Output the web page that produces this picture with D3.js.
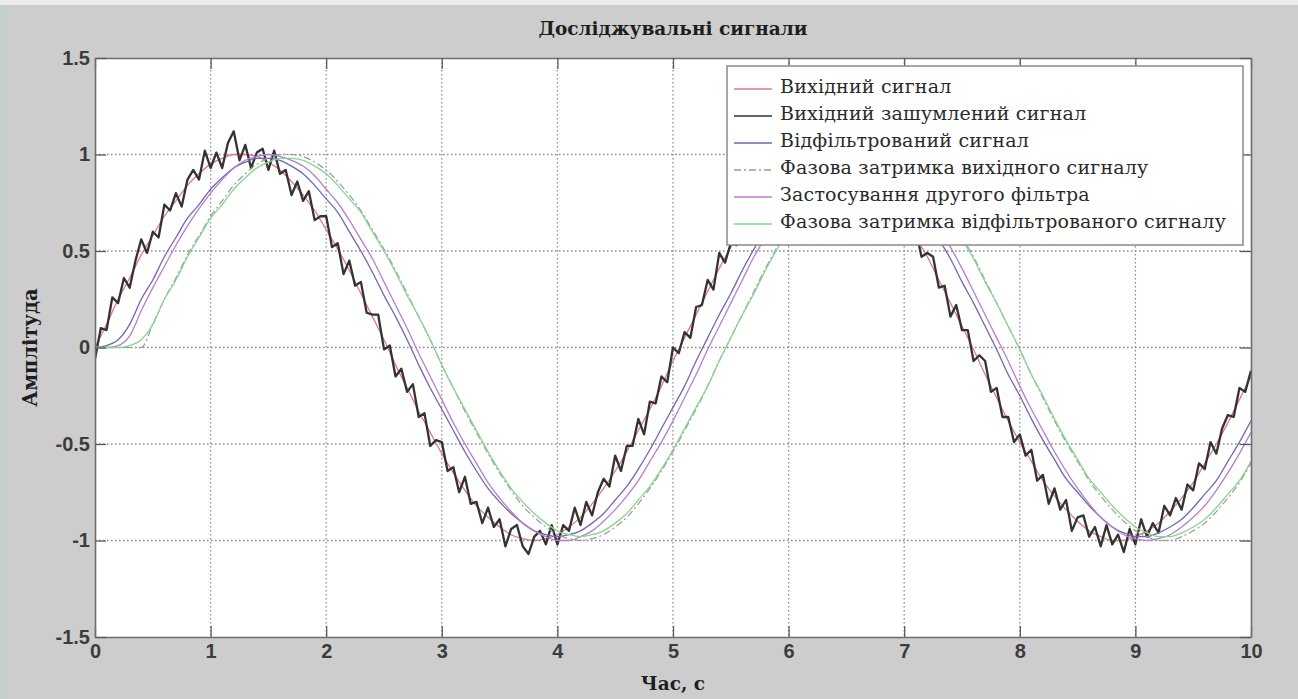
<!DOCTYPE html>
<html>
<head>
<meta charset="utf-8">
<script src="https://cdn.jsdelivr.net/npm/d3@7"></script>
<style>
  html, body { margin: 0; padding: 0; background: #cdcdcd; overflow: hidden; }
  svg { display: block; }
</style>
</head>
<body>
<svg id="chart" width="1298" height="699"></svg>
<script>
// ---- data -------------------------------------------------------------
const titleText = "Досліджувальні сигнали";
const xAxisTitle = "Час, с";
const yAxisTitle = "Амплітуда";

const legendLabels = [
  "Вихідний сигнал",
  "Вихідний зашумлений сигнал",
  "Відфільтрований сигнал",
  "Фазова затримка вихідного сигналу",
  "Застосування другого фільтра",
  "Фазова затримка відфільтрованого сигналу"
];

const xTickValues = [0, 1, 2, 3, 4, 5, 6, 7, 8, 9, 10];
const xTickLabels = ["0", "1", "2", "3", "4", "5", "6", "7", "8", "9", "10"];
const yTickValues = [-1.5, -1, -0.5, 0, 0.5, 1, 1.5];
const yTickLabels = ["-1.5", "-1", "-0.5", "0", "0.5", "1", "1.5"];

// smooth curves, sampled every 0.1 s from 0 to 10 s
const sourceSignal = [
  0, .12, .25, .36, .48, .58, .68, .76, .84, .90,
  .95, .98, 1.0, 1.0, .99, .96, .92, .86, .79, .71,
  .61, .51, .40, .28, .16, .04, -.09, -.21, -.33, -.44,
  -.55, -.65, -.74, -.82, -.88, -.93, -.97, -.99, -1.0, -.99,
  -.97, -.93, -.88, -.81, -.73, -.64, -.54, -.43, -.32, -.20,
  -.07, .05, .17, .29, .41, .52, .62, .71, .80, .86,
  .92, .96, .99, 1.0, 1.0, .98, .94, .90, .83, .76,
  .67, .57, .47, .35, .23, .11, -.01, -.14, -.26, -.38,
  -.49, -.59, -.69, -.77, -.84, -.90, -.95, -.98, -1.0, -1.0,
  -.98, -.95, -.91, -.85, -.78, -.70, -.60, -.50, -.39, -.27,
  -.15
];

const filteredSignal = [
  0, .01, .04, .12, .25, .35, .47, .57, .67, .74,
  .82, .88, .93, .96, .98, .98, .97, .94, .90, .84,
  .77, .70, .60, .50, .39, .27, .16, .04, -.09, -.21,
  -.32, -.43, -.54, -.64, -.73, -.80, -.86, -.91, -.95, -.97,
  -.98, -.97, -.95, -.91, -.86, -.79, -.72, -.63, -.53, -.42,
  -.31, -.20, -.07, .05, .17, .28, .40, .51, .61, .70,
  .78, .84, .90, .94, .97, .98, .98, .96, .92, .88,
  .81, .74, .66, .56, .46, .34, .23, .11, -.01, -.14,
  -.25, -.37, -.48, -.58, -.68, -.75, -.82, -.88, -.93, -.96,
  -.98, -.98, -.96, -.93, -.89, -.83, -.76, -.69, -.59, -.49,
  -.38
];

const sourceDelayed = [
  0, 0, 0, 0, 0, .12, .25, .36, .48, .58,
  .68, .76, .84, .90, .95, .98, 1.0, 1.0, .99, .96,
  .92, .86, .79, .71, .61, .51, .40, .28, .16, .04,
  -.09, -.21, -.33, -.44, -.55, -.65, -.74, -.82, -.88, -.93,
  -.97, -.99, -1.0, -.99, -.97, -.93, -.88, -.81, -.73, -.64,
  -.54, -.43, -.32, -.20, -.07, .05, .17, .29, .41, .52,
  .62, .71, .80, .86, .92, .96, .99, 1.0, 1.0, .98,
  .94, .90, .83, .76, .67, .57, .47, .35, .23, .11,
  -.01, -.14, -.26, -.38, -.49, -.59, -.69, -.77, -.84, -.90,
  -.95, -.98, -1.0, -1.0, -.98, -.95, -.91, -.85, -.78, -.70,
  -.60
];

const secondFilter = [
  0, 0, .01, .06, .19, .31, .42, .53, .63, .72,
  .80, .87, .93, .97, .99, 1.0, .99, .97, .94, .89,
  .82, .75, .66, .56, .46, .34, .22, .10, -.03, -.15,
  -.27, -.39, -.50, -.60, -.70, -.78, -.85, -.91, -.95, -.98,
  -1.0, -1.0, -.98, -.95, -.90, -.84, -.77, -.69, -.59, -.49,
  -.38, -.26, -.14, -.01, .11, .23, .35, .47, .57, .67,
  .76, .83, .89, .94, .98, 1.0, 1.0, .99, .96, .92,
  .87, .80, .71, .62, .52, .41, .29, .17, .05, -.07,
  -.20, -.32, -.43, -.54, -.64, -.73, -.81, -.88, -.93, -.97,
  -.99, -1.0, -.99, -.97, -.93, -.88, -.82, -.74, -.65, -.55,
  -.44
];

const filteredDelayed = [
  0, 0, 0, .01, .04, .12, .25, .35, .47, .57,
  .67, .74, .82, .88, .93, .96, .98, .98, .97, .94,
  .90, .84, .77, .70, .60, .50, .39, .27, .16, .04,
  -.09, -.21, -.32, -.43, -.54, -.64, -.73, -.80, -.86, -.91,
  -.95, -.97, -.98, -.97, -.95, -.91, -.86, -.79, -.72, -.63,
  -.53, -.42, -.31, -.20, -.07, .05, .17, .28, .40, .51,
  .61, .70, .78, .84, .90, .94, .97, .98, .98, .96,
  .92, .88, .81, .74, .66, .56, .46, .34, .23, .11,
  -.01, -.14, -.25, -.37, -.48, -.58, -.68, -.75, -.82, -.88,
  -.93, -.96, -.98, -.98, -.96, -.93, -.89, -.83, -.76, -.69,
  -.59
];

// noisy measurement, sampled every 0.05 s from 0 to 10 s
const noisySignal = [
  -.06, .10, .09, .26, .23, .36, .31, .45, .56, .49,
  .60, .57, .74, .71, .80, .73, .87, .92, .87, 1.02,
  .93, 1.01, .93, 1.06, 1.12, .97, 1.05, .93, 1.01, 1.03,
  .92, 1.02, .90, .92, .79, .86, .76, .81, .66, .68,
  .68, .52, .54, .38, .45, .32, .34, .18, .17, .17,
  -.01, .01, -.15, -.11, -.23, -.19, -.36, -.34, -.51, -.48,
  -.49, -.64, -.62, -.75, -.67, -.81, -.80, -.91, -.83, -.93,
  -.89, -1.03, -.94, -.92, -1.03, -1.07, -.98, -.95, -1.02, -.92,
  -1.02, -.92, -.95, -.83, -.92, -.80, -.87, -.75, -.68, -.72,
  -.56, -.64, -.51, -.51, -.37, -.45, -.28, -.29, -.15, -.18,
  0, -.03, .08, .05, .21, .22, .35, .30, .49, .44,
  .54, .53, .67, .60, .74, .82, .78, .87, .81, .96,
  .89, .96, .90, 1.03, .97, 1.09, .96, 1.03, .95, 1.05,
  .95, 1.00, .87, .94, .95, .83, .89, .78, .79, .65,
  .74, .59, .61, .47, .49, .47, .31, .32, .16, .22,
  .09, .09, -.07, -.04, -.07, -.23, -.21, -.36, -.36, -.49,
  -.45, -.56, -.53, -.69, -.66, -.81, -.73, -.84, -.79, -.95,
  -.88, -.87, -.98, -.93, -1.03, -.92, -1.02, -.97, -1.06, -.94,
  -1.02, -.89, -.98, -.91, -.96, -.82, -.87, -.78, -.84, -.71,
  -.74, -.60, -.63, -.49, -.55, -.42, -.35, -.36, -.21, -.23,
  -.12
];

const coarseTime = d3.range(sourceSignal.length).map(i => i / 10);
const fineTime = d3.range(noisySignal.length).map(i => i / 20);

const series = [
  { label: legendLabels[0], time: coarseTime, values: sourceSignal,    color: "#e07888", width: 1.3, dash: null, curve: d3.curveMonotoneX },
  { label: legendLabels[1], time: fineTime,   values: noisySignal,     color: "#333333", width: 2.3, dash: null, curve: d3.curveLinear },
  { label: legendLabels[2], time: coarseTime, values: filteredSignal,  color: "#6a6ab4", width: 1.3, dash: null, curve: d3.curveMonotoneX },
  { label: legendLabels[3], time: coarseTime, values: sourceDelayed,   color: "#9a9a9a", width: 1.2, dash: "7,3,2,3", curve: d3.curveMonotoneX },
  { label: legendLabels[4], time: coarseTime, values: secondFilter,    color: "#bb7ccc", width: 1.3, dash: null, curve: d3.curveMonotoneX },
  { label: legendLabels[5], time: coarseTime, values: filteredDelayed, color: "#84d88c", width: 1.3, dash: null, curve: d3.curveMonotoneX }
];

// ---- layout -----------------------------------------------------------
const W = 1298, H = 699;
const plot = { left: 95, right: 1251, top: 58, bottom: 637 };

const svg = d3.select("#chart");

// figure background
svg.append("rect").attr("x", 0).attr("y", 0).attr("width", W).attr("height", H).attr("fill", "#cdcdcd");
svg.append("rect").attr("x", 0).attr("y", 0).attr("width", W).attr("height", 5).attr("fill", "#ececec");
svg.append("rect").attr("x", 0).attr("y", 5).attr("width", 7).attr("height", H - 5).attr("fill", "#c2d0cf");

const x = d3.scaleLinear().domain([0, 10]).range([plot.left, plot.right]);
const y = d3.scaleLinear().domain([-1.5, 1.5]).range([plot.bottom, plot.top]);

// axes background
svg.append("rect")
  .attr("x", plot.left).attr("y", plot.top)
  .attr("width", plot.right - plot.left).attr("height", plot.bottom - plot.top)
  .attr("fill", "#ffffff");

// dotted grid
const grid = svg.append("g").attr("class", "grid")
  .attr("stroke", "#8c8c8c").attr("stroke-width", 1.3).attr("stroke-dasharray", "1.6,2.4");
grid.selectAll("line.gx").data(xTickValues.slice(1, -1)).join("line")
  .attr("x1", d => x(d)).attr("x2", d => x(d))
  .attr("y1", plot.top).attr("y2", plot.bottom);
grid.selectAll("line.gy").data(yTickValues.slice(1, -1)).join("line")
  .attr("y1", d => y(d)).attr("y2", d => y(d))
  .attr("x1", plot.left).attr("x2", plot.right);

// curves
svg.append("defs").append("clipPath").attr("id", "plotClip")
  .append("rect")
  .attr("x", plot.left).attr("y", plot.top)
  .attr("width", plot.right - plot.left).attr("height", plot.bottom - plot.top);

const lines = svg.append("g").attr("clip-path", "url(#plotClip)");
series.forEach(s => {
  const gen = d3.line()
    .x((d, i) => x(s.time[i]))
    .y(d => y(d))
    .curve(s.curve);
  lines.append("path")
    .datum(s.values)
    .attr("fill", "none")
    .attr("stroke", s.color)
    .attr("stroke-width", s.width)
    .attr("stroke-linejoin", "round")
    .attr("stroke-dasharray", s.dash)
    .attr("d", gen);
});

// axes with inward ticks
const tickLen = 11;
const fmtX = d => xTickLabels[xTickValues.indexOf(d)];
const fmtY = d => yTickLabels[yTickValues.indexOf(d)];

function styleAxis(g) {
  g.select(".domain").attr("stroke", "#6e6e6e").attr("stroke-width", 1.6);
  g.selectAll(".tick line").attr("stroke", "#5a5a5a").attr("stroke-width", 1.3);
  g.selectAll(".tick text")
    .attr("fill", "#3c3c3c")
    .style("font-family", "'Liberation Sans', Arial, sans-serif")
    .style("font-size", "20px")
    .style("font-weight", "bold");
}

svg.append("g").attr("transform", `translate(0,${plot.bottom})`)
  .call(d3.axisBottom(x).tickValues(xTickValues).tickFormat(fmtX).tickSize(-tickLen).tickSizeOuter(0).tickPadding(7))
  .call(styleAxis);
svg.append("g").attr("transform", `translate(0,${plot.top})`)
  .call(d3.axisTop(x).tickValues(xTickValues).tickFormat("").tickSize(-tickLen).tickSizeOuter(0))
  .call(styleAxis);
svg.append("g").attr("transform", `translate(${plot.left},0)`)
  .call(d3.axisLeft(y).tickValues(yTickValues).tickFormat(fmtY).tickSize(-tickLen).tickSizeOuter(0).tickPadding(5))
  .call(styleAxis);
svg.append("g").attr("transform", `translate(${plot.right},0)`)
  .call(d3.axisRight(y).tickValues(yTickValues).tickFormat("").tickSize(-tickLen).tickSizeOuter(0))
  .call(styleAxis);

// titles
const serif = "'DejaVu Serif', 'Liberation Serif', serif";
svg.append("text")
  .attr("x", (plot.left + plot.right) / 2).attr("y", 30)
  .attr("text-anchor", "middle").attr("dominant-baseline", "middle")
  .style("font-family", serif).style("font-size", "18.5px").style("font-weight", "bold")
  .attr("fill", "#1e1e1e")
  .text(titleText);

svg.append("text")
  .attr("x", (plot.left + plot.right) / 2).attr("y", 685)
  .attr("text-anchor", "middle").attr("dominant-baseline", "middle")
  .style("font-family", serif).style("font-size", "18.5px").style("font-weight", "bold")
  .attr("fill", "#1e1e1e")
  .text(xAxisTitle);

svg.append("text")
  .attr("transform", `translate(31,${(plot.top + plot.bottom) / 2}) rotate(-90)`)
  .attr("text-anchor", "middle").attr("dominant-baseline", "middle")
  .style("font-family", serif).style("font-size", "19.5px").style("font-weight", "bold")
  .attr("fill", "#1e1e1e")
  .text(yAxisTitle);

// legend
const legend = { x: 727, y: 66, w: 516, h: 179, rowTop: 88, rowStep: 27 };
const lg = svg.append("g");
lg.append("rect")
  .attr("x", legend.x).attr("y", legend.y).attr("width", legend.w).attr("height", legend.h)
  .attr("fill", "#ffffff").attr("stroke", "#8a8a8a").attr("stroke-width", 1.5);

const rows = lg.selectAll("g.row").data(series).join("g")
  .attr("transform", (d, i) => `translate(${legend.x},${legend.rowTop + i * legend.rowStep})`);
rows.append("line")
  .attr("x1", 7).attr("x2", 45).attr("y1", 1).attr("y2", 1)
  .attr("stroke", d => d.color).attr("stroke-width", 1.5)
  .attr("stroke-dasharray", d => d.dash);
rows.append("text")
  .attr("x", 53).attr("y", 0)
  .attr("dominant-baseline", "middle")
  .style("font-family", serif).style("font-size", "19px")
  .style("letter-spacing", "0.2px")
  .attr("fill", "#2a2a2a")
  .text(d => d.label);
</script>
</body>
</html>
